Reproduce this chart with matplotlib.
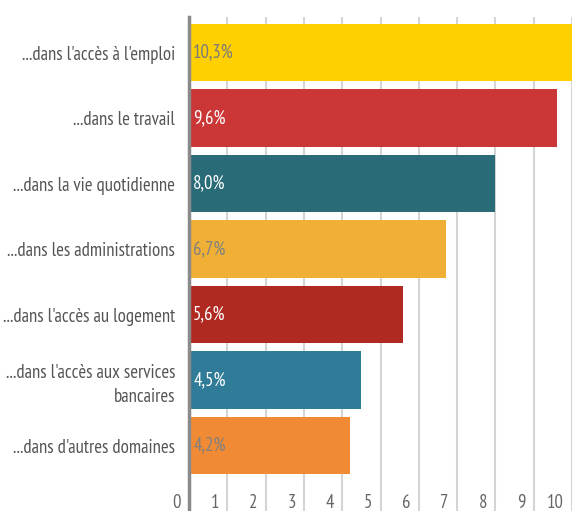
"""Bar chart: share of people reporting discrimination, by domain."""

import matplotlib
matplotlib.use("Agg")
import matplotlib.pyplot as plt
import matplotlib.transforms as mtransforms
from matplotlib import font_manager

categories = [
    "...dans l'accès à l'emploi",
    "...dans le travail",
    "...dans la vie quotidienne",
    "...dans les administrations",
    "...dans l'accès au logement",
    "...dans l'accès aux services\nbancaires",
    "...dans d'autres domaines",
]
values = [10.3, 9.6, 8.0, 6.7, 5.6, 4.5, 4.2]
value_labels = ["10,3%", "9,6%", "8,0%", "6,7%", "5,6%", "4,5%", "4,2%"]
bar_colors = ["#FFD000", "#CB3636", "#2A6B78", "#F0B036", "#B02A22", "#307B98", "#F08A35"]
label_colors = ["#7a7a7a", "white", "white", "#808080", "white", "white", "#808080"]
x_ticks = list(range(11))

available = {f.name for f in font_manager.fontManager.ttflist}
preferred = ["PT Sans Narrow", "Fira Sans Condensed", "Roboto Condensed",
             "Open Sans Condensed", "Archivo Narrow", "Asap Condensed",
             "Barlow Semi Condensed"]
family = next((f for f in preferred if f in available), "DejaVu Sans")
plt.rcParams["font.family"] = [family, "DejaVu Sans"]

fig = plt.figure(figsize=(5.72, 5.11), dpi=100)
ax = fig.add_axes([189 / 572, 0.0, 1 - 189 / 572, 1 - 17 / 511])

y = list(range(len(categories)))
ax.barh(y, values, height=0.88, color=bar_colors, zorder=2)

for yi, lab, col in zip(y, value_labels, label_colors):
    ax.annotate(lab, xy=(0, yi), xytext=(3, 0), textcoords="offset points",
                ha="left", va="center", color=col, fontsize=13.5, zorder=3)

ax.set_xlim(0, 9.98)
ax.set_ylim(7.0, -0.544)

ax.set_yticks(y)
ax.set_yticklabels(categories, fontsize=13.5, color="#555555", ha="right",
                   multialignment="right", linespacing=1.45)
ax.tick_params(axis="y", length=0, pad=10)

ax.set_xticks(x_ticks)
ax.set_xticklabels([str(t) for t in x_ticks], fontsize=13.5, color="#666666")
ax.tick_params(axis="x", length=0, pad=-12)
offset = mtransforms.ScaledTranslation(-6 / 72, 0, fig.dpi_scale_trans)
for lbl in ax.get_xticklabels():
    lbl.set_horizontalalignment("right")
    lbl.set_transform(lbl.get_transform() + offset)

ax.grid(axis="x", color="#d4d4d4", linewidth=1.5, zorder=0)
ax.set_axisbelow(True)
for side in ["top", "right", "bottom"]:
    ax.spines[side].set_visible(False)
ax.spines["left"].set_color("#8a8a8a")
ax.spines["left"].set_linewidth(2.5)
ax.spines["left"].set_zorder(4)

fig.savefig("out.png", dpi=100)
